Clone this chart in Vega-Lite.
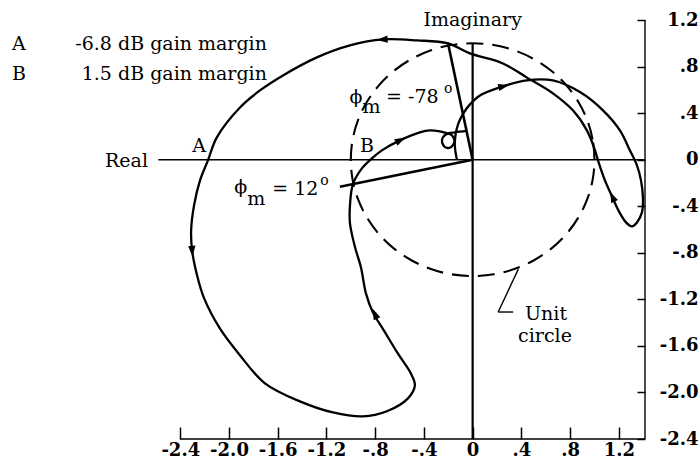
{
  "$schema": "https://vega.github.io/schema/vega-lite/v6.json",
  "width": 645,
  "height": 439,
  "autosize": {"type": "none"},
  "padding": {"left": 0, "top": 0, "right": 55, "bottom": 27},
  "background": "white",
  "config": {"view": {"stroke": null}, "font": "DejaVu Serif"},
  "datasets": {
    "thin": [
      {"re": -2.58, "im": 0, "re2": 1.415, "im2": 0},
      {"re": -2.4, "im": -2.4, "re2": 1.415, "im2": -2.4},
      {"re": 1.415, "im": -2.4, "re2": 1.415, "im2": 1.2},
      {"re": 0.375, "im": -0.94, "re2": 0.21, "im2": -1.309},
      {"re": 0.21, "im": -1.309, "re2": 0.333, "im2": -1.309}
    ],
    "imag": [
      {"re": 0, "im": -2.4, "re2": 0, "im2": 1.0}
    ],
    "phase": [
      {"re": 0, "im": 0, "re2": -0.203, "im2": 1.005},
      {"re": 0, "im": 0, "re2": -1.09, "im2": -0.232}
    ],
    "circle": [
      {"i": 0, "re": 1, "im": 0}, {"i": 1, "re": 0.985, "im": 0.174}, {"i": 2, "re": 0.94, "im": 0.342},
      {"i": 3, "re": 0.866, "im": 0.5}, {"i": 4, "re": 0.766, "im": 0.643}, {"i": 5, "re": 0.643, "im": 0.766},
      {"i": 6, "re": 0.5, "im": 0.866}, {"i": 7, "re": 0.342, "im": 0.94}, {"i": 8, "re": 0.174, "im": 0.985},
      {"i": 9, "re": 0, "im": 1}, {"i": 10, "re": -0.174, "im": 0.985}, {"i": 11, "re": -0.342, "im": 0.94},
      {"i": 12, "re": -0.5, "im": 0.866}, {"i": 13, "re": -0.643, "im": 0.766}, {"i": 14, "re": -0.766, "im": 0.643},
      {"i": 15, "re": -0.866, "im": 0.5}, {"i": 16, "re": -0.94, "im": 0.342}, {"i": 17, "re": -0.985, "im": 0.174},
      {"i": 18, "re": -1, "im": 0}, {"i": 19, "re": -0.985, "im": -0.174}, {"i": 20, "re": -0.94, "im": -0.342},
      {"i": 21, "re": -0.866, "im": -0.5}, {"i": 22, "re": -0.766, "im": -0.643}, {"i": 23, "re": -0.643, "im": -0.766},
      {"i": 24, "re": -0.5, "im": -0.866}, {"i": 25, "re": -0.342, "im": -0.94}, {"i": 26, "re": -0.174, "im": -0.985},
      {"i": 27, "re": 0, "im": -1}, {"i": 28, "re": 0.174, "im": -0.985}, {"i": 29, "re": 0.342, "im": -0.94},
      {"i": 30, "re": 0.5, "im": -0.866}, {"i": 31, "re": 0.643, "im": -0.766}, {"i": 32, "re": 0.766, "im": -0.643},
      {"i": 33, "re": 0.866, "im": -0.5}, {"i": 34, "re": 0.94, "im": -0.342}, {"i": 35, "re": 0.985, "im": -0.174}
    ],
    "curve": [
      {"i": 1, "re": -0.129, "im": 0.0},
      {"i": 2, "re": -0.145, "im": 0.106},
      {"i": 3, "re": -0.141, "im": 0.209},
      {"i": 4, "re": -0.117, "im": 0.312},
      {"i": 5, "re": -0.076, "im": 0.398},
      {"i": 6, "re": -0.022, "im": 0.475},
      {"i": 7, "re": 0.06, "im": 0.552},
      {"i": 8, "re": 0.249, "im": 0.63},
      {"i": 9, "re": 0.446, "im": 0.682},
      {"i": 10, "re": 0.659, "im": 0.681},
      {"i": 11, "re": 0.881, "im": 0.581},
      {"i": 12, "re": 1.07, "im": 0.424},
      {"i": 13, "re": 1.209, "im": 0.252},
      {"i": 14, "re": 1.291, "im": 0.08},
      {"i": 15, "re": 1.349, "im": -0.049},
      {"i": 16, "re": 1.382, "im": -0.178},
      {"i": 17, "re": 1.398, "im": -0.324},
      {"i": 18, "re": 1.39, "im": -0.453},
      {"i": 19, "re": 1.349, "im": -0.539},
      {"i": 20, "re": 1.308, "im": -0.573},
      {"i": 21, "re": 1.259, "im": -0.539},
      {"i": 22, "re": 1.201, "im": -0.444},
      {"i": 23, "re": 1.144, "im": -0.315},
      {"i": 24, "re": 1.086, "im": -0.178},
      {"i": 25, "re": 1.029, "im": -0.006},
      {"i": 26, "re": 1.005, "im": 0.08},
      {"i": 27, "re": 0.938, "im": 0.252},
      {"i": 28, "re": 0.823, "im": 0.424},
      {"i": 29, "re": 0.659, "im": 0.57},
      {"i": 30, "re": 0.446, "im": 0.705},
      {"i": 31, "re": 0.249, "im": 0.827},
      {"i": 32, "re": -0.022, "im": 0.913},
      {"i": 33, "re": -0.203, "im": 0.999},
      {"i": 34, "re": -0.457, "im": 1.025},
      {"i": 35, "re": -0.736, "im": 1.033},
      {"i": 36, "re": -1.007, "im": 0.982},
      {"i": 37, "re": -1.278, "im": 0.879},
      {"i": 38, "re": -1.557, "im": 0.724},
      {"i": 39, "re": -1.746, "im": 0.595},
      {"i": 40, "re": -1.91, "im": 0.449},
      {"i": 41, "re": -2.1, "im": 0.192},
      {"i": 42, "re": -2.173, "im": -0.006},
      {"i": 43, "re": -2.238, "im": -0.178},
      {"i": 44, "re": -2.287, "im": -0.393},
      {"i": 45, "re": -2.311, "im": -0.608},
      {"i": 46, "re": -2.303, "im": -0.78},
      {"i": 47, "re": -2.262, "im": -0.994},
      {"i": 48, "re": -2.204, "im": -1.192},
      {"i": 49, "re": -2.075, "im": -1.45},
      {"i": 50, "re": -1.909, "im": -1.682},
      {"i": 51, "re": -1.705, "im": -1.922},
      {"i": 52, "re": -1.418, "im": -2.077},
      {"i": 53, "re": -1.147, "im": -2.172},
      {"i": 54, "re": -0.901, "im": -2.206},
      {"i": 55, "re": -0.704, "im": -2.162},
      {"i": 56, "re": -0.531, "im": -2.051},
      {"i": 57, "re": -0.474, "im": -1.94},
      {"i": 58, "re": -0.507, "im": -1.837},
      {"i": 59, "re": -0.614, "im": -1.665},
      {"i": 60, "re": -0.729, "im": -1.467},
      {"i": 61, "re": -0.819, "im": -1.312},
      {"i": 62, "re": -0.876, "im": -1.149},
      {"i": 63, "re": -0.917, "im": -0.925},
      {"i": 64, "re": -0.966, "im": -0.75},
      {"i": 65, "re": -1.007, "im": -0.547},
      {"i": 66, "re": -1.007, "im": -0.392},
      {"i": 67, "re": -0.983, "im": -0.212},
      {"i": 68, "re": -0.909, "im": -0.075},
      {"i": 69, "re": -0.827, "im": 0.011},
      {"i": 70, "re": -0.745, "im": 0.08},
      {"i": 71, "re": -0.597, "im": 0.166},
      {"i": 72, "re": -0.433, "im": 0.235},
      {"i": 73, "re": -0.351, "im": 0.252},
      {"i": 74, "re": -0.268, "im": 0.243},
      {"i": 75, "re": -0.219, "im": 0.23},
      {"i": 76, "re": -0.17, "im": 0.209},
      {"i": 77, "re": -0.149, "im": 0.162},
      {"i": 78, "re": -0.17, "im": 0.114},
      {"i": 79, "re": -0.211, "im": 0.101},
      {"i": 80, "re": -0.248, "im": 0.14},
      {"i": 81, "re": -0.244, "im": 0.192},
      {"i": 82, "re": -0.211, "im": 0.222},
      {"i": 83, "re": -0.145, "im": 0.235},
      {"i": 84, "re": -0.047, "im": 0.247}
    ],
    "arrows": [
      {"id": "a1", "re": -0.736, "im": 1.033},
      {"id": "a2", "re": -2.303, "im": -0.78},
      {"id": "a3", "re": -0.8, "im": -1.33},
      {"id": "a4", "re": -0.597, "im": 0.166},
      {"id": "a5", "re": 0.249, "im": 0.63},
      {"id": "a6", "re": 1.15, "im": -0.325}
    ],
    "textLeft": [
      {"t": "A", "re": -3.782, "im": 0.939},
      {"t": "B", "re": -3.782, "im": 0.688},
      {"t": "ϕ", "re": -1.01, "im": 0.484},
      {"t": "m", "re": -0.905, "im": 0.398},
      {"t": "= -78", "re": -0.711, "im": 0.484},
      {"t": "ϕ", "re": -1.957, "im": -0.29},
      {"t": "m", "re": -1.85, "im": -0.393},
      {"t": "= 12", "re": -1.645, "im": -0.307}
    ],
    "textRight": [
      {"t": "-6.8 dB gain margin", "re": -1.689, "im": 0.939},
      {"t": "1.5 dB gain margin", "re": -1.689, "im": 0.688},
      {"t": "Real", "re": -2.665, "im": -0.065}
    ],
    "textCenter": [
      {"t": "Imaginary", "re": 0, "im": 1.145},
      {"t": "A", "re": -2.245, "im": 0.063},
      {"t": "B", "re": -0.868, "im": 0.063},
      {"t": "Unit", "re": 0.603, "im": -1.381},
      {"t": "circle", "re": 0.594, "im": -1.57}
    ],
    "sups": [
      {"t": "o", "re": -0.236, "im": 0.569},
      {"t": "o", "re": -1.25, "im": -0.22}
    ]
  },
  "encoding": {
    "x": {
      "field": "re", "type": "quantitative",
      "scale": {"domain": [-3.88, 1.415], "nice": false, "zero": false},
      "axis": {
        "orient": "bottom", "title": null, "grid": false, "domain": false,
        "values": [-2.4, -2.0, -1.6, -1.2, -0.8, -0.4, 0, 0.4, 0.8, 1.2],
        "ticks": true, "tickSize": -12, "tickWidth": 1.5, "tickColor": "black",
        "labelPadding": 28, "labelBaseline": "alphabetic", "labelAlign": "center",
        "labelFont": "DejaVu Serif", "labelFontSize": 18, "labelFontWeight": "bold", "labelColor": "black",
        "labelFlush": false, "labelOverlap": false,
        "labelExpr": "datum.value == 0 ? '0' : replace(replace(format(datum.value, '.1f'), '\u2212', '-'), '0.', '.')"
      }
    },
    "y": {
      "field": "im", "type": "quantitative",
      "scale": {"domain": [-2.4, 1.372], "nice": false, "zero": false},
      "axis": {
        "orient": "right", "title": null, "grid": false, "domain": false,
        "values": [-2.4, -2.0, -1.6, -1.2, -0.8, -0.4, 0, 0.4, 0.8, 1.2],
        "ticks": true, "tickSize": -8, "tickWidth": 1.5, "tickColor": "black",
        "labelPadding": 61, "labelAlign": "right", "labelBaseline": "middle",
        "labelFont": "DejaVu Serif", "labelFontSize": 18, "labelFontWeight": "bold", "labelColor": "black",
        "labelFlush": false, "labelOverlap": false,
        "labelExpr": "datum.value == 0 ? '0' : replace(replace(format(datum.value, '.1f'), '\u2212', '-'), '0.', '.')"
      }
    }
  },
  "layer": [
    {
      "data": {"name": "thin"},
      "mark": {"type": "rule", "color": "black", "strokeWidth": 1.4},
      "encoding": {"x2": {"field": "re2"}, "y2": {"field": "im2"}}
    },
    {
      "data": {"name": "imag"},
      "mark": {"type": "rule", "color": "black", "strokeWidth": 2.2},
      "encoding": {"x2": {"field": "re2"}, "y2": {"field": "im2"}}
    },
    {
      "data": {"name": "phase"},
      "mark": {"type": "rule", "color": "black", "strokeWidth": 2.6},
      "encoding": {"x2": {"field": "re2"}, "y2": {"field": "im2"}}
    },
    {
      "data": {"name": "circle"},
      "mark": {"type": "line", "color": "black", "strokeWidth": 2.1, "strokeDash": [17, 9], "interpolate": "cardinal-closed"},
      "encoding": {"order": {"field": "i", "type": "quantitative"}}
    },
    {
      "data": {"name": "curve"},
      "mark": {"type": "line", "color": "black", "strokeWidth": 2.3, "interpolate": "catmull-rom"},
      "encoding": {"order": {"field": "i", "type": "quantitative"}}
    },
    {
      "data": {"name": "arrows"},
      "transform": [{"filter": "datum.id == 'a1'"}],
      "mark": {"type": "point", "shape": "M0,-1L0.6,0.75L-0.6,0.75Z", "filled": true, "color": "black", "opacity": 1, "size": 150, "angle": 266}
    },
    {
      "data": {"name": "arrows"},
      "transform": [{"filter": "datum.id == 'a2'"}],
      "mark": {"type": "point", "shape": "M0,-1L0.6,0.75L-0.6,0.75Z", "filled": true, "color": "black", "opacity": 1, "size": 150, "angle": 176}
    },
    {
      "data": {"name": "arrows"},
      "transform": [{"filter": "datum.id == 'a3'"}],
      "mark": {"type": "point", "shape": "M0,-1L0.6,0.75L-0.6,0.75Z", "filled": true, "color": "black", "opacity": 1, "size": 150, "angle": 336}
    },
    {
      "data": {"name": "arrows"},
      "transform": [{"filter": "datum.id == 'a4'"}],
      "mark": {"type": "point", "shape": "M0,-1L0.6,0.75L-0.6,0.75Z", "filled": true, "color": "black", "opacity": 1, "size": 150, "angle": 62}
    },
    {
      "data": {"name": "arrows"},
      "transform": [{"filter": "datum.id == 'a5'"}],
      "mark": {"type": "point", "shape": "M0,-1L0.6,0.75L-0.6,0.75Z", "filled": true, "color": "black", "opacity": 1, "size": 150, "angle": 76}
    },
    {
      "data": {"name": "arrows"},
      "transform": [{"filter": "datum.id == 'a6'"}],
      "mark": {"type": "point", "shape": "M0,-1L0.6,0.75L-0.6,0.75Z", "filled": true, "color": "black", "opacity": 1, "size": 150, "angle": 335}
    },
    {
      "data": {"name": "textLeft"},
      "mark": {"type": "text", "align": "left", "baseline": "alphabetic", "font": "DejaVu Serif", "fontSize": 19, "color": "black"},
      "encoding": {"text": {"field": "t"}}
    },
    {
      "data": {"name": "textRight"},
      "mark": {"type": "text", "align": "right", "baseline": "alphabetic", "font": "DejaVu Serif", "fontSize": 19, "color": "black"},
      "encoding": {"text": {"field": "t"}}
    },
    {
      "data": {"name": "textCenter"},
      "mark": {"type": "text", "align": "center", "baseline": "alphabetic", "font": "DejaVu Serif", "fontSize": 19, "color": "black"},
      "encoding": {"text": {"field": "t"}}
    },
    {
      "data": {"name": "sups"},
      "mark": {"type": "text", "align": "left", "baseline": "alphabetic", "font": "DejaVu Serif", "fontSize": 14, "color": "black"},
      "encoding": {"text": {"field": "t"}}
    }
  ]
}
